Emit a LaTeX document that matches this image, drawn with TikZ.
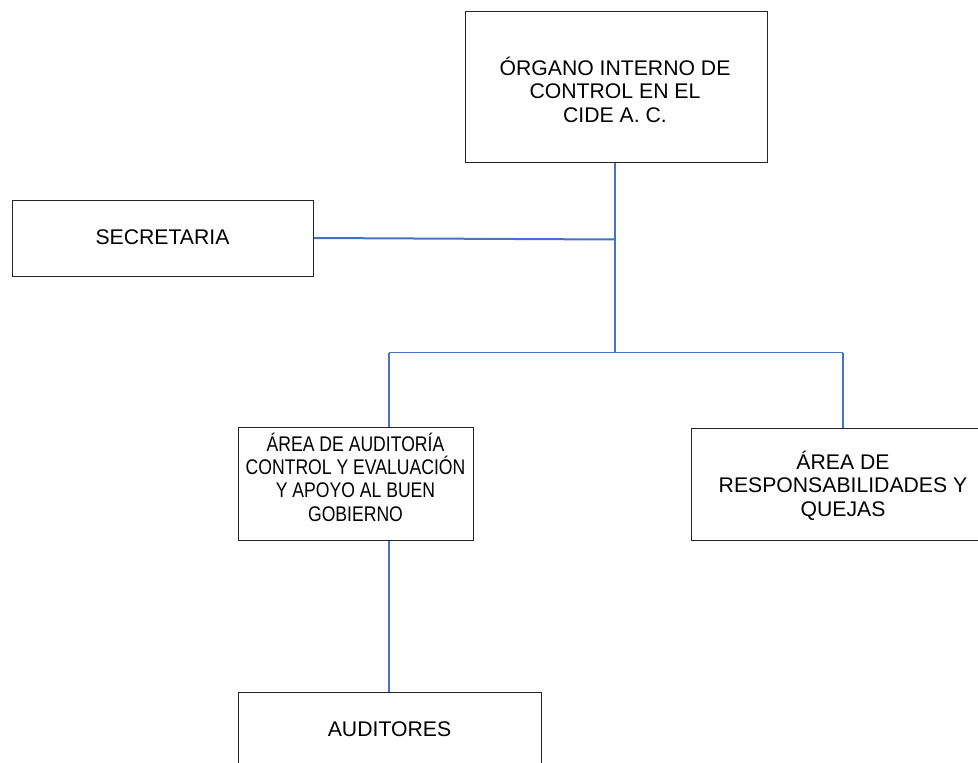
\documentclass[tikz,border=0pt]{standalone}
\usepackage{fontspec}
\setmainfont{Liberation Sans}
\newfontfamily\narrowsans[FakeStretch=0.83]{Liberation Sans}
\definecolor{lineblue}{HTML}{4472C4}
\begin{document}
\begin{tikzpicture}[x=1pt,y=-1pt,
  box/.style={draw=black!85, line width=1.1pt, fill=white},
  lbl/.style={anchor=base, align=center, inner sep=0pt, font=\fontsize{21.2}{23.3}\selectfont},
  conn/.style={draw=lineblue, line width=1.1pt},
  connthick/.style={draw=lineblue, line width=2pt}]
\useasboundingbox (0,0) rectangle (978,763);
\clip (0,0) rectangle (978,763);
% boxes
\node[box, minimum width=302pt, minimum height=151pt, anchor=north west, inner sep=0pt] (oic) at (465,11) {};
\node[box, minimum width=301pt, minimum height=76pt, anchor=north west, inner sep=0pt] (sec) at (12,200) {};
\node[box, minimum width=235pt, minimum height=113pt, anchor=north west, inner sep=0pt] (aud) at (238,427) {};
\node[box, minimum width=304pt, minimum height=112pt, anchor=north west, inner sep=0pt] (resp) at (691,428) {};
\node[box, minimum width=303pt, minimum height=120pt, anchor=north west, inner sep=0pt] (audt) at (238,692) {};
% texts (base anchor = baseline of the last line)
\node[lbl] (toic) at (615,122) {ÓRGANO INTERNO DE\\CONTROL EN EL\\CIDE A. C.};
\node[lbl] (tsec) at (162.5,244) {SECRETARIA};
\node[lbl, font=\narrowsans\fontsize{21.2}{23.3}\selectfont] (taud) at (355.5,521) {ÁREA DE AUDITORÍA\\CONTROL Y EVALUACIÓN\\Y APOYO AL BUEN\\GOBIERNO};
\node[lbl] (tresp) at (843,516) {ÁREA DE\\RESPONSABILIDADES Y\\QUEJAS};
\node[lbl] (taudt) at (389.5,736) {AUDITORES};
% junctions
\coordinate (j1) at (615,239.5);
\coordinate (j2) at (615,352.5);
\coordinate (jl) at (389,352.5);
\coordinate (jr) at (843,352.5);
% connectors
\draw[conn] (oic.south -| j1) -- (j2);
\draw[connthick] (sec.east |- 0,238) -- (j1);
\draw[conn] (jl) -- (jr);
\draw[conn] (jl) -- (jl |- aud.north);
\draw[conn] (jr) -- (jr |- resp.north);
\draw[connthick] (jl |- aud.south) -- (jl |- audt.north);
\end{tikzpicture}
\end{document}
